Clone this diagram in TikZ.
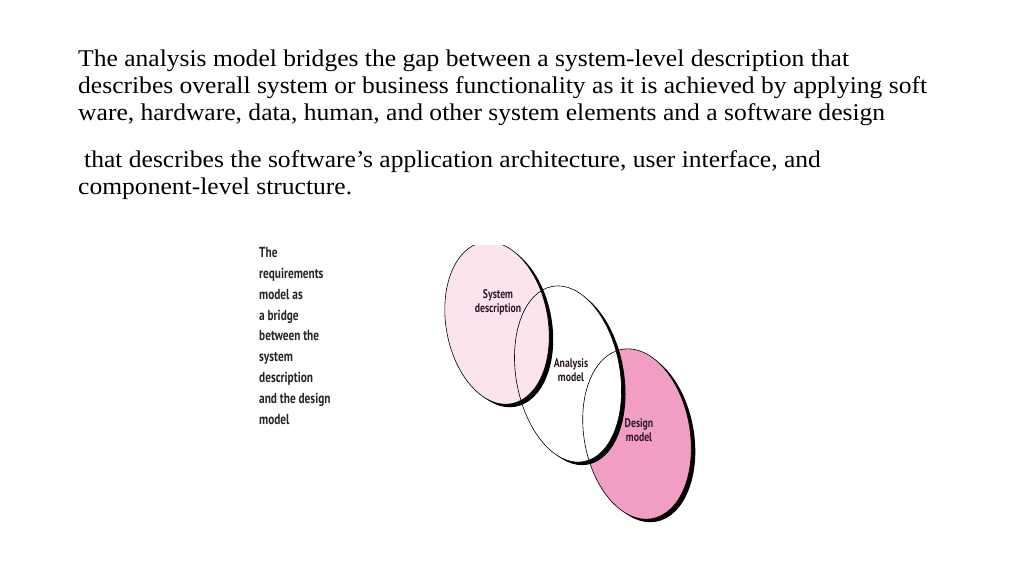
\documentclass[tikz,border=0pt]{standalone}
\usepackage{fontspec}
\setmainfont{Liberation Serif}[FakeStretch=1.065]
\newfontfamily\sidefont[FakeStretch=0.78]{PT Sans}
\newfontfamily\ellfont[FakeStretch=0.78]{PT Sans}
\definecolor{syspink}{HTML}{FCE4EE}
\definecolor{despink}{HTML}{F29DC3}
\definecolor{sidegray}{HTML}{262626}
\definecolor{labdark}{HTML}{2A1A26}
\begin{document}
\begin{tikzpicture}[x=1pt,y=-1pt,
  para/.style={anchor=base west,inner sep=0pt,font=\fontsize{24}{28}\selectfont},
  side/.style={anchor=base west,inner sep=0pt,align=left,text=sidegray,font=\sidefont\bfseries\fontsize{14.5}{20.8}\selectfont},
  elab/.style={inner sep=0pt,align=center,text=labdark,font=\ellfont\bfseries\fontsize{12.5}{14}\selectfont},
  shadowell/.style={fill=black},
  thinline/.style={draw=black,line width=0.6pt}]
\useasboundingbox[fill=white] (0,0) rectangle (1024,576);

\node[para] (p1) at (78,66) {The analysis model bridges the gap between a system-level description that};
\node[para] (p2) at (78,93) {describes overall system or business functionality as it is achieved by applying soft};
\node[para] (p3) at (78,120) {ware, hardware, data, human, and other system elements and a software design};
\node[para] (p4) at (84,167) {that describes the software’s application architecture, user interface, and};
\node[para] (p5) at (78,194) {component-level structure.};

% base anchor of a multi-line node sits on its last line
\node[side] (side) at (259,424) {The\\requirements\\model as\\a bridge\\between the\\system\\description\\and the design\\model};

\begin{scope}
\clip (0,245) rectangle (1024,576);
% design model
\fill[shadowell,rotate around={10:(641,437)}] (641,437) ellipse [x radius=53, y radius=86];
\fill[despink,rotate around={10:(637,434)}] (637,434) ellipse [x radius=53, y radius=86];
% analysis model
\fill[shadowell,rotate around={10:(572,377)}] (572,377) ellipse [x radius=52, y radius=89];
\fill[white,rotate around={10:(568,374)}] (568,374) ellipse [x radius=52, y radius=89];
% system description
\fill[shadowell,rotate around={10:(501,326)}] (501,326) ellipse [x radius=51, y radius=82];
\fill[syspink,rotate around={10:(497,323)}] (497,323) ellipse [x radius=51, y radius=82];
% outlines
\draw[thinline,rotate around={10:(637,434)}] (637,434) ellipse [x radius=53, y radius=86];
\draw[thinline,rotate around={10:(568,374)}] (568,374) ellipse [x radius=52, y radius=89];
\draw[thinline,rotate around={10:(497,323)}] (497,323) ellipse [x radius=51, y radius=82];
\end{scope}

\node[elab] (sys) at (498,302) {System\\description};
\node[elab] (ana) at (571,370) {Analysis\\model};
\node[elab] (des) at (639,430) {Design\\model};
\end{tikzpicture}
\end{document}
